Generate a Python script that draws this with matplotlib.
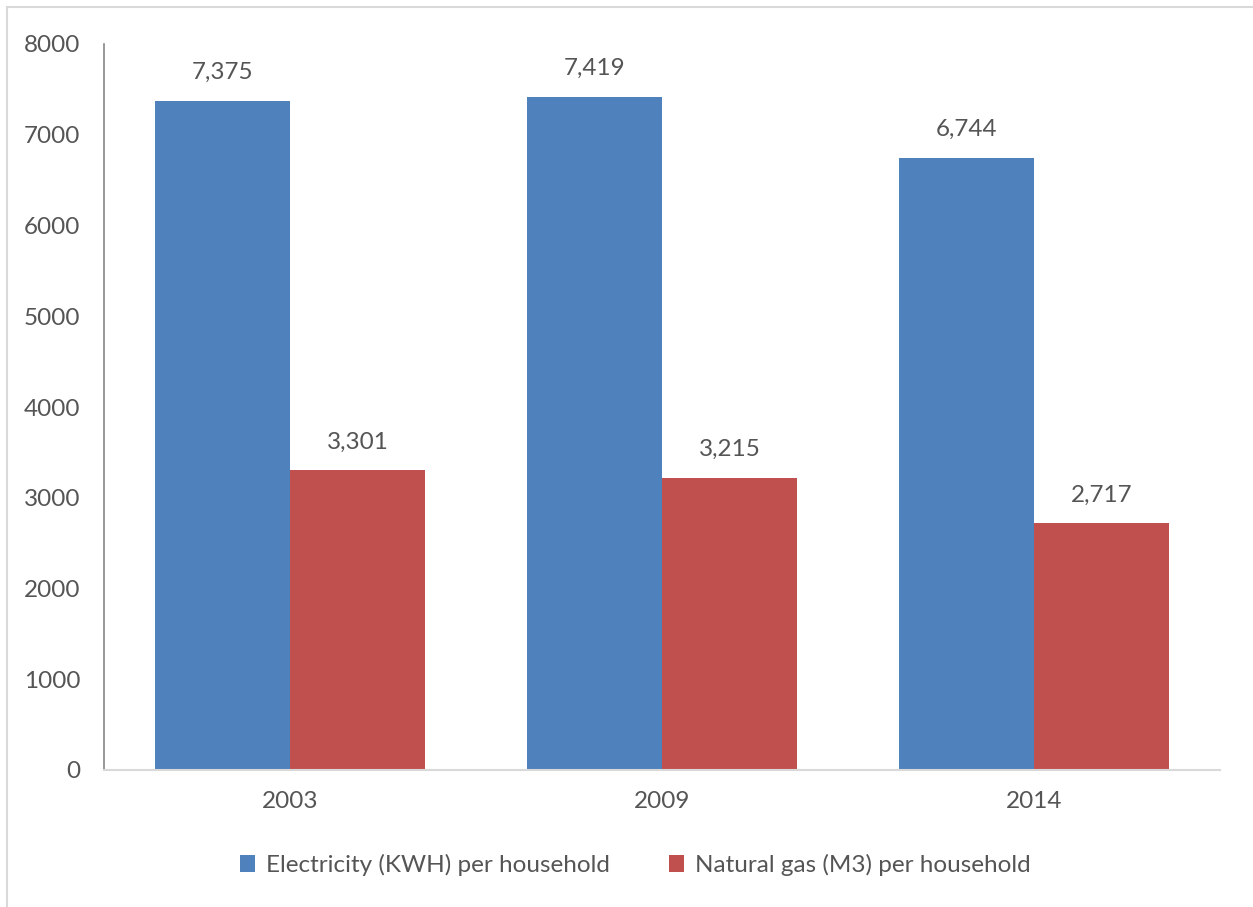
import numpy as np
import matplotlib.pyplot as plt
from matplotlib.patches import Rectangle

years = ["2003", "2009", "2014"]
electricity = [7375, 7419, 6744]
natural_gas = [3301, 3215, 2717]
series_names = ["Electricity (KWH) per household", "Natural gas (M3) per household"]
yticks = [0, 1000, 2000, 3000, 4000, 5000, 6000, 7000, 8000]

plt.rcParams["font.family"] = ["Lato", "DejaVu Sans"]
txt = "#555555"
fs = 17.5

fig = plt.figure(figsize=(12.53, 9.07), dpi=100)
fig.patches.append(Rectangle((7 / 1253, -0.1), 1.2, (1 - 7 / 907) + 0.1, transform=fig.transFigure,
                             fill=False, edgecolor="#d9d9d9", linewidth=1.5))
ax = fig.add_axes([104 / 1253, 1 - 770 / 907, 1116 / 1253, 726 / 907])

x = np.arange(len(years))
w = 0.363
b1 = ax.bar(x - w / 2, electricity, w, color="#4F81BD", label=series_names[0])
b2 = ax.bar(x + w / 2, natural_gas, w, color="#C0504D", label=series_names[1])

for bars, vals in ((b1, electricity), (b2, natural_gas)):
    for r, v in zip(bars, vals):
        ax.annotate(f"{v:,}", (r.get_x() + r.get_width() / 2, v), xytext=(0, 13),
                    textcoords="offset points", ha="center", va="bottom",
                    fontsize=fs, color=txt)

ax.set_xlim(-0.5, 2.5)
ax.set_ylim(0, 8000)
ax.set_xticks(x, years)
ax.set_yticks(yticks)
ax.tick_params(length=0, labelsize=fs, labelcolor=txt)
ax.tick_params(axis="y", pad=17)
ax.tick_params(axis="x", pad=15)
for s in ("top", "right"):
    ax.spines[s].set_visible(False)
ax.spines["left"].set_color("#868686")
ax.spines["left"].set_linewidth(1.2)
ax.spines["bottom"].set_color("#d9d9d9")
ax.spines["bottom"].set_linewidth(1.5)

fig.legend(loc="center", bbox_to_anchor=(0.507, 1 - 865 / 907), ncol=2, frameon=False,
           fontsize=fs, labelcolor=txt, handlelength=0.65, handleheight=0.65,
           handletextpad=0.45, columnspacing=2.4)

fig.savefig("out.png", dpi=100)
